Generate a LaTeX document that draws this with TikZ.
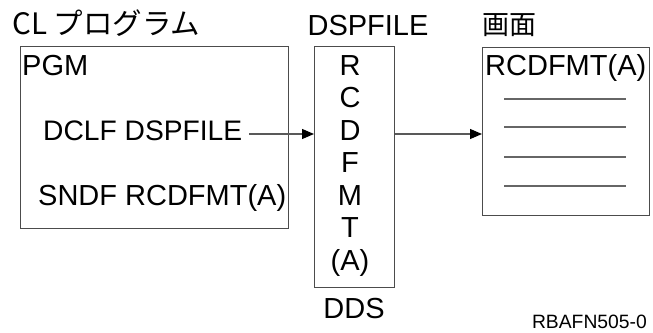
\documentclass[tikz,border=0pt]{standalone}
\usepackage{fontspec}
\setmainfont{Liberation Sans}
\newfontfamily\jp{Noto Sans CJK JP}
\usetikzlibrary{arrows.meta}

\begin{document}
\begin{tikzpicture}[x=1pt, y=-1pt,
        box/.style={draw=black!70, line width=1.2pt, inner sep=0pt, anchor=north west},
        lbl/.style={inner sep=0pt, font=\fontsize{29}{32}\selectfont},
        jplbl/.style={inner sep=0pt, font=\jp\fontsize{27}{30}\selectfont},
        rule/.style={draw=black!60, line width=1.2pt},
        flow/.style={draw=black!65, line width=1.2pt, -{Triangle[length=12pt, width=10pt, color=black]}}]
        \useasboundingbox (0,0) rectangle (653,332);

        % Titles
        \node[jplbl, anchor=base west, font=\jp\fontsize{29.5}{32}\selectfont] (cltitle) at (12,34) {CL プログラム};
        \node[lbl, anchor=base] (dspname) at (368,35) {DSPFILE};
        \node[jplbl, anchor=base west] (scrname) at (482,34) {画面};

        % Boxes
        \node[box, minimum width=268, minimum height=182] (pgm) at (20,46) {};
        \node[box, minimum width=80, minimum height=241] (dds) at (314,46) {};
        \node[box, minimum width=167, minimum height=168] (scr) at (482,47) {};

        % Program
        \node[lbl, anchor=base west] (pgmname) at (22,75) {PGM};
        \node[lbl, anchor=base west, font=\fontsize{28.2}{32}\selectfont] (dclf) at (43,140) {DCLF DSPFILE};
        \node[lbl, anchor=base west] (sndf) at (38,205) {SNDF RCDFMT(A)};

        % Record format, one letter per line
        \foreach \ch [count=\i from 0] in {R,C,D,F,M,T,{(A)}}
            \node[lbl, anchor=base] (fmt\i) at (350,75+32.5*\i) {\ch};
        \node[lbl, anchor=base] (ddsname) at (354,318) {DDS};

        % Screen
        \node[lbl, anchor=base west] (scrfmt) at (485,75) {RCDFMT(A)};
        \foreach \yy in {99,127,157,186}
            \draw[rule] (504,\yy) -- (626,\yy);

        % Arrows
        \coordinate (dclfout) at (249,134);
        \draw[flow] (dclfout) -- (dclfout -| dds.west);
        \draw[flow] (dclfout -| dds.east) -- (dclfout -| scr.west);

        \node[inner sep=0pt, anchor=base east, font=\fontsize{19.3}{21}\selectfont] (figid) at (647,328) {RBAFN505-0};
    \end{tikzpicture}
\end{document}
